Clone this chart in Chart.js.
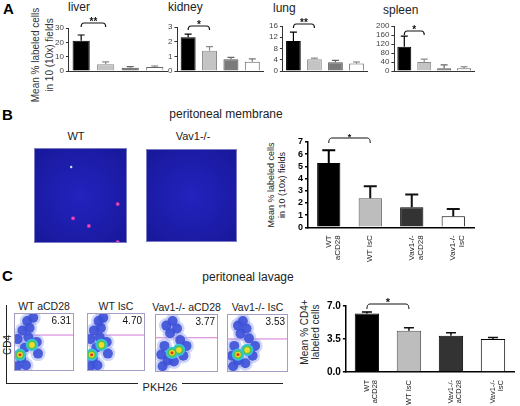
<!DOCTYPE html>
<html>
<head>
<meta charset="utf-8">
<script src="https://cdn.jsdelivr.net/npm/chart.js@4.4.1/dist/chart.umd.min.js"></script>
<style>
body{margin:0;width:520px;height:406px;background:#fff;position:relative;overflow:hidden;font-family:"Liberation Sans",Arial,sans-serif;color:#222}
canvas{position:absolute}
.t{position:absolute;white-space:nowrap;line-height:1}
.c{transform:translateX(-50%)}
.rot{position:absolute;transform:translate(-50%,-50%) rotate(-90deg);text-align:center;white-space:nowrap}
.ln{position:absolute;background:#222}
.big{font-weight:bold;font-size:15px;color:#000}
</style>
</head>
<body>
<!-- panel A -->
<div class="t big" style="left:3px;top:1px">A</div>
<div class="rot" style="left:43px;top:55px;font-size:10px;line-height:14px;color:#333">Mean % labeled cells<br>in 10 (10x) fields</div>
<div class="t" style="left:68px;top:1px;font-size:12px">liver</div>
<div class="t" style="left:168px;top:1px;font-size:12px">kidney</div>
<div class="t" style="left:273px;top:2px;font-size:12px">lung</div>
<div class="t" style="left:383px;top:4px;font-size:12px">spleen</div>
<canvas id="liver"></canvas>
<canvas id="kidney"></canvas>
<canvas id="lung"></canvas>
<canvas id="spleen"></canvas>

<!-- panel B -->
<div class="t big" style="left:2px;top:107px">B</div>
<div class="t c" style="left:226px;top:108px;font-size:12px">peritoneal membrane</div>
<div class="t c" style="left:76px;top:131px;font-size:11px">WT</div>
<div class="t c" style="left:193px;top:131px;font-size:11px">Vav1-/-</div>
<canvas id="micro1"></canvas>
<canvas id="micro2"></canvas>
<div class="rot" style="left:276px;top:185px;font-size:9px;line-height:10.5px;color:#222">Mean % labeled cells<br>in 10 (10x) fields</div>
<canvas id="membrane"></canvas>

<!-- panel C -->
<div class="t big" style="left:2px;top:268px">C</div>
<div class="t c" style="left:248px;top:271px;font-size:12px">peritoneal lavage</div>
<div class="rot" style="left:7px;top:345px;font-size:10px">CD4</div>
<div class="ln" style="left:6px;top:305px;width:1px;height:78px"></div>
<div class="ln" style="left:6px;top:383px;width:132px;height:1px"></div>
<div class="ln" style="left:182px;top:383px;width:101px;height:1px"></div>
<div class="t c" style="left:160px;top:382px;font-size:11px">PKH26</div>
<canvas id="flow0"></canvas>
<canvas id="flow1"></canvas>
<canvas id="flow2"></canvas>
<canvas id="flow3"></canvas>
<div class="rot" style="left:310px;top:332px;font-size:10px;line-height:11px;color:#222">Mean % CD4+<br>labeled cells</div>
<canvas id="lavage"></canvas>

<script>
// ---- data ----
var barLabels = [['WT', 'aCD28'], 'WT IsC', ['Vav1-/-', 'aCD28'], ['Vav1-/-', 'IsC']];

var liverVals = [21.1, 4.7, 2.3, 2.8];
var liverErr = [25.1, 6.3, 3.0, 3.5];
var kidneyVals = [2.3, 1.38, 0.8, 0.63];
var kidneyErr = [2.52, 1.66, 0.93, 0.82];
var lungVals = [10.7, 4.15, 3.1, 2.7];
var lungErr = [13.8, 4.6, 3.8, 3.2];
var spleenVals = [108, 40, 12, 12];
var spleenErr = [155, 53, 27, 19];

var membraneVals = [5.27, 2.39, 1.65, 0.91];
var membraneErr = [6.32, 3.38, 2.69, 1.51];

var lavageVals = [6.2, 4.38, 3.85, 3.5];
var lavageErr = [6.37, 4.69, 4.17, 3.67];
var lavageTicks = [0, 3.5, 7];

// microscopy: labelled (pink) cells and one bright spot, in % of the field
var wtPink = [{x: 90, y: 41}, {x: 42, y: 26}, {x: 59, y: 18}, {x: 90, y: 1}];
var wtBright = [{x: 40, y: 80}];

// flow plots (PKH26 vs CD4, % of plot)
var flowTitles = ['WT aCD28', 'WT IsC', 'Vav1-/- aCD28', 'Vav1-/- IsC'];
var flowPct = ['6.31', '4.70', '3.77', '3.53'];
var flowGate = [62, 62, 59, 57];
var flowCores = [
  [[10, 28], [30, 45]],
  [[8, 28], [25, 45]],
  [[27, 33], [38, 38]],
  [[18, 30], [33, 38]]
];
var flowCloud = [
  [[5, 8], [12, 22], [18, 40], [24, 58], [26, 74], [22, 86], [32, 92], [38, 50], [40, 30], [6, 55], [14, 70], [20, 10]],
  [[5, 8], [10, 22], [16, 40], [22, 58], [24, 74], [20, 86], [28, 92], [34, 50], [36, 30], [6, 55], [12, 70], [18, 10]],
  [[12, 10], [20, 20], [30, 18], [45, 28], [50, 45], [40, 55], [24, 67], [18, 80], [28, 88], [15, 45], [10, 30], [35, 75]],
  [[10, 10], [18, 20], [30, 15], [42, 28], [46, 45], [36, 58], [22, 66], [18, 80], [26, 88], [12, 45], [8, 28], [32, 75]]
];

// ---- plugins ----
var errPlugin = {
  id: 'errbars',
  afterDatasetsDraw: function (chart, args, o) {
    if (!o.vals) return;
    var ctx = chart.ctx, meta = chart.getDatasetMeta(0), y = chart.scales.y;
    ctx.save();
    meta.data.forEach(function (bar, i) {
      var top = y.getPixelForValue(o.vals[i]);
      var half = o.cap / 2;
      ctx.strokeStyle = o.colors[i];
      ctx.lineWidth = o.width;
      ctx.beginPath();
      ctx.moveTo(bar.x, bar.y);
      ctx.lineTo(bar.x, top);
      ctx.moveTo(bar.x - half, top);
      ctx.lineTo(bar.x + half, top);
      ctx.stroke();
    });
    ctx.restore();
  }
};

var bracketPlugin = {
  id: 'bracket',
  afterDraw: function (chart, args, o) {
    if (!o.text) return;
    var ctx = chart.ctx, m = chart.getDatasetMeta(0);
    var x1 = m.data[0].x, x2 = m.data[1].x;
    var yy = chart.chartArea.top + o.dy;
    ctx.save();
    ctx.strokeStyle = '#111';
    ctx.lineWidth = o.lw || 1.2;
    ctx.beginPath();
    ctx.moveTo(x1, yy + o.drop);
    ctx.quadraticCurveTo(x1, yy, x1 + 3, yy);
    ctx.lineTo(x2 - 3, yy);
    ctx.quadraticCurveTo(x2, yy, x2, yy + o.drop);
    ctx.stroke();
    ctx.fillStyle = '#111';
    ctx.font = 'bold ' + o.size + 'px "Liberation Sans", Arial';
    ctx.textAlign = 'center';
    ctx.textBaseline = 'alphabetic';
    ctx.fillText(o.text, (x1 + x2) / 2, yy + 2);
    ctx.restore();
  }
};

Chart.register(errPlugin, bracketPlugin);

function barConfig(vals, errs, yopt, look, padTop, padRight) {
  return {
    type: 'bar',
    data: {
      labels: barLabels,
      datasets: [{
        data: vals,
        backgroundColor: look.fill,
        borderColor: look.border,
        borderWidth: look.bw,
        borderSkipped: 'bottom',
        barPercentage: look.bar,
        categoryPercentage: 1
      }]
    },
    options: {
      responsive: false,
      animation: false,
      layout: {autoPadding: false, padding: {top: padTop, right: padRight, left: 0, bottom: 0}},
      plugins: {
        legend: {display: false},
        tooltip: {enabled: false},
        errbars: {vals: errs, colors: look.errColor, width: look.errW, cap: look.cap},
        bracket: look.bracket
      },
      scales: {
        x: {
          grid: {display: false},
          border: {display: true, color: look.axis, width: look.axisW},
          ticks: {
            display: look.xLabels,
            minRotation: 90, maxRotation: 90, autoSkip: false,
            color: '#222', padding: 0,
            font: {family: '"Liberation Sans", Arial', size: look.xSize || 8, lineHeight: 1.1}
          }
        },
        y: {
          min: yopt.min, max: yopt.max,
          afterBuildTicks: function (s) {
            if (yopt.ticks) s.ticks = yopt.ticks.map(function (v) { return {value: v}; });
          },
          grid: {display: true, drawOnChartArea: false, drawTicks: true, tickLength: 3, color: look.axis, lineWidth: look.axisW},
          border: {display: true, color: look.axis, width: look.axisW},
          ticks: {
            stepSize: yopt.step,
            autoSkip: false,
            color: look.tickColor,
            padding: 2,
            font: {family: '"Liberation Sans", Arial', size: look.tickSize, weight: look.tickWeight},
            callback: function (v) { return yopt.fmt ? yopt.fmt(v) : String(v); }
          }
        }
      }
    }
  };
}

// geo = [axis x, right end x, top (max) y, bottom (0) y, padTop, padRight]
function barChart(id, geo, vals, errs, yopt, look) {
  var cv = document.getElementById(id);
  cv.width = 300; cv.height = 300;
  var probe = new Chart(cv, barConfig(vals, errs, yopt, look, geo[4], geo[5]));
  var yw = probe.chartArea.left;
  var xh = 300 - probe.chartArea.bottom;
  probe.destroy();
  cv.width = Math.round((geo[1] - geo[0]) + yw + geo[5]);
  cv.height = Math.round((geo[3] - geo[2]) + geo[4] + xh);
  cv.style.left = (geo[0] - yw) + 'px';
  cv.style.top = (geo[2] - geo[4]) + 'px';
  return new Chart(cv, barConfig(vals, errs, yopt, look, geo[4], geo[5]));
}

// panel A look
var lookA = {
  xLabels: false,
  fill: ['#000000', '#c4c4c4', '#7a7a7a', '#ffffff'],
  border: ['#000000', '#8a8a8a', '#555555', '#666666'],
  bw: 1, bar: 0.7,
  errColor: ['#000000', '#8a8a8a', '#666666', '#777777'], errW: 1.2, cap: 7,
  axis: '#333', axisW: 1, tickColor: '#444', tickSize: 8, tickWeight: 'normal'
};
function withBracket(look, b) {
  var o = {};
  for (var k in look) o[k] = look[k];
  o.bracket = b;
  return o;
}

barChart('liver', [69, 167, 28, 71, 14, 4], liverVals, liverErr, {min: 0, max: 30, step: 10},
  withBracket(lookA, {text: '**', dy: -5, drop: 4, size: 10}));
barChart('kidney', [177, 263, 27, 71, 14, 4], kidneyVals, kidneyErr, {min: 0, max: 3, step: 1},
  withBracket(lookA, {text: '*', dy: -1, drop: 4, size: 10}));
barChart('lung', [283, 367, 26, 71, 14, 4], lungVals, lungErr, {min: 0, max: 16, step: 4},
  withBracket(lookA, {text: '**', dy: -2, drop: 4, size: 10}));
barChart('spleen', [394, 474, 26, 71, 14, 4], spleenVals, spleenErr, {min: 0, max: 200, step: 40},
  withBracket(lookA, {text: '*', dy: 5, drop: 4, size: 10}));

// panels B / C look
var lookB = {
  xLabels: true, xSize: 8,
  fill: ['#000000', '#bdbdbd', '#333333', '#ffffff'],
  border: ['#000000', '#555555', '#000000', '#000000'],
  bw: 1, bar: 0.56,
  errColor: ['#000', '#111', '#111', '#111'], errW: 2, cap: 13,
  axis: '#000', axisW: 1.5, tickColor: '#000', tickSize: 9, tickWeight: 'bold',
  bracket: {text: '*', dy: -4, drop: 5, size: 9, lw: 1}
};
barChart('membrane', [308, 474, 142, 227, 14, 2], membraneVals, membraneErr, {min: 0, max: 7, step: 1}, lookB);

var lookC = withBracket(lookB, {text: '*', dy: -2, drop: 5, size: 11, lw: 1});
lookC.errW = 1.5; lookC.cap = 10; lookC.tickSize = 10; lookC.bar = 0.58; lookC.xSize = 7.5;
barChart('lavage', [346, 514, 306, 372, 14, 4], lavageVals, lavageErr,
  {min: 0, max: 7, ticks: lavageTicks, fmt: function (v) { return v.toFixed(1); }}, lookC);

// ---- microscopy panels ----
var fieldPlugin = {
  id: 'field',
  beforeDatasetsDraw: function (chart) {
    var a = chart.chartArea, ctx = chart.ctx;
    ctx.save();
    var g = ctx.createRadialGradient((a.left + a.right) / 2, (a.top + a.bottom) / 2, 5, (a.left + a.right) / 2, (a.top + a.bottom) / 2, a.right - a.left);
    g.addColorStop(0, '#2222bc');
    g.addColorStop(1, '#13138a');
    ctx.fillStyle = g;
    ctx.fillRect(a.left, a.top, a.right - a.left, a.bottom - a.top);
    ctx.restore();
  },
  afterDraw: function (chart) {
    var a = chart.chartArea, ctx = chart.ctx;
    ctx.save();
    ctx.strokeStyle = '#7c7cc4';
    ctx.lineWidth = 1;
    ctx.strokeRect(a.left + 0.5, a.top + 0.5, a.right - a.left - 1, a.bottom - a.top - 1);
    ctx.restore();
  }
};

function microChart(id, left, top, w, h, pink, bright) {
  var cv = document.getElementById(id);
  cv.width = w; cv.height = h;
  cv.style.left = left + 'px'; cv.style.top = top + 'px';
  return new Chart(cv, {
    type: 'scatter',
    data: {
      datasets: [
        {data: bright, pointRadius: 1.2, pointBackgroundColor: '#bfefff', pointBorderWidth: 0, clip: 0},
        {data: pink, pointRadius: 1.6, pointBackgroundColor: '#ff4ab0', pointBorderColor: 'rgba(200,50,190,0.5)', pointBorderWidth: 1.2, clip: 0}
      ]
    },
    options: {
      responsive: false, animation: false,
      layout: {autoPadding: false, padding: 0},
      plugins: {legend: {display: false}, tooltip: {enabled: false}},
      scales: {x: {display: false, min: 0, max: 100}, y: {display: false, min: 0, max: 100}}
    },
    plugins: [fieldPlugin]
  });
}
microChart('micro1', 34, 148, 93, 95, wtPink, wtBright);
microChart('micro2', 146, 149, 91, 93, [], []);

// ---- flow cytometry plots ----
var flowPlugin = {
  id: 'flowframe',
  beforeDatasetsDraw: function (chart, args, o) {
    var a = chart.chartArea, ctx = chart.ctx;
    var gy = chart.scales.y.getPixelForValue(o.gate);
    ctx.save();
    ctx.strokeStyle = '#d27ad6';
    ctx.lineWidth = 1;
    ctx.beginPath();
    ctx.moveTo(a.left, gy);
    ctx.lineTo(a.right, gy);
    ctx.stroke();
    ctx.restore();
  },
  afterDraw: function (chart, args, o) {
    var a = chart.chartArea, ctx = chart.ctx;
    ctx.save();
    ctx.strokeStyle = '#a79cc4';
    ctx.lineWidth = 1;
    ctx.strokeRect(a.left + 0.5, a.top + 0.5, a.right - a.left - 1, a.bottom - a.top - 1);
    ctx.fillStyle = '#111';
    ctx.font = '10px "Liberation Sans", Arial';
    ctx.textAlign = 'right';
    ctx.textBaseline = 'top';
    ctx.fillText(o.pct, a.right - 3, a.top + 3);
    ctx.restore();
  }
};

function pts(list, r) {
  return list.map(function (p) { return {x: p[0], y: p[1], r: r}; });
}

var flowBoxes = [[14, 313, 60, 58], [87, 313, 58, 58], [155, 314, 63, 58], [227, 314, 61, 58]];
flowBoxes.forEach(function (b, i) {
  var cv = document.getElementById('flow' + i);
  cv.width = b[2]; cv.height = b[3];
  cv.style.left = b[0] + 'px'; cv.style.top = b[1] + 'px';
  var t = document.createElement('div');
  t.className = 't c';
  t.style.cssText = 'left:' + (b[0] + b[2] / 2) + 'px;top:' + (b[1] - 12) + 'px;font-size:10.5px';
  t.textContent = flowTitles[i];
  document.body.appendChild(t);
  var cores = flowCores[i], cloud = flowCloud[i];
  new Chart(cv, {
    type: 'bubble',
    data: {
      datasets: [
        {data: pts([cores[0]], 1.6), backgroundColor: '#e8381c', borderWidth: 0, clip: 0},
        {data: pts(cores, 2.8), backgroundColor: '#eedc2a', borderWidth: 0, clip: 0},
        {data: pts(cores, 4.3), backgroundColor: '#52c448', borderWidth: 0, clip: 0},
        {data: pts(cores, 6.2), backgroundColor: '#38c2dc', borderWidth: 0, clip: 0},
        {data: pts(cloud, 5), backgroundColor: 'rgba(60,80,215,0.9)', borderWidth: 0, clip: 0},
        {data: pts(cloud, 7.5), backgroundColor: 'rgba(150,165,238,0.45)', borderWidth: 0, clip: 0}
      ]
    },
    options: {
      responsive: false, animation: false,
      layout: {autoPadding: false, padding: 0},
      plugins: {legend: {display: false}, tooltip: {enabled: false}, flowframe: {gate: flowGate[i], pct: flowPct[i]}},
      scales: {x: {display: false, min: 0, max: 100}, y: {display: false, min: 0, max: 100}}
    },
    plugins: [flowPlugin]
  });
});
</script>
</body>
</html>
